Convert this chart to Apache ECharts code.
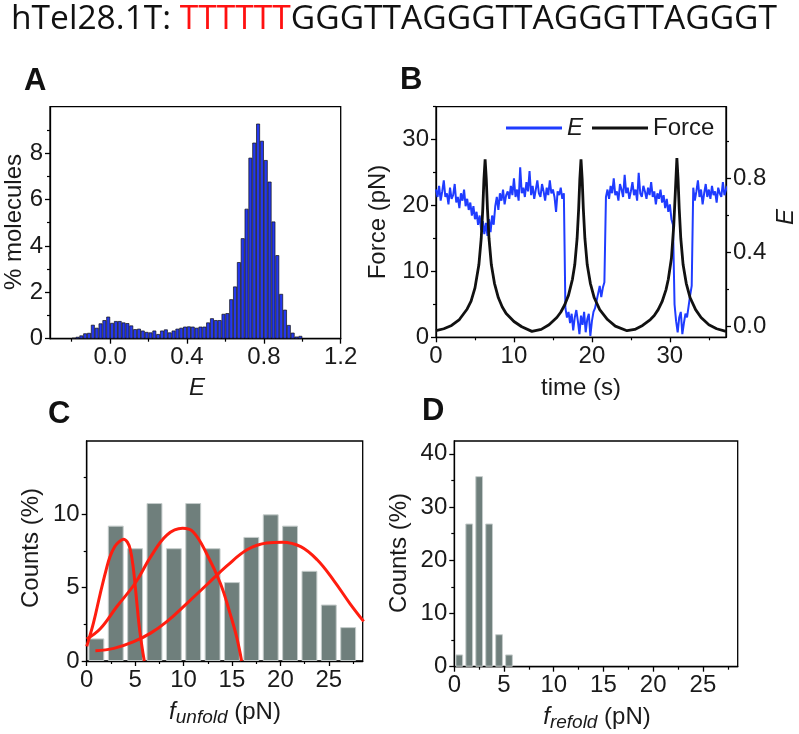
<!DOCTYPE html>
<html><head><meta charset="utf-8">
<script src="https://cdn.jsdelivr.net/npm/echarts@6/dist/echarts.min.js"></script>
<style>html,body{margin:0;padding:0;background:#fff}#c{width:799px;height:734px}</style>
</head><body><div id="c"></div><script>
// ---------- DATA ----------
// Panel A: FRET histogram (bins of 0.02 starting at -0.20)
const HIST_A_START = -0.2;
const HIST_A_BIN = 0.02;
const HIST_A_VALUES = [0.04,0.08,0.14,0.23,0.25,0.60,0.47,0.66,0.80,0.95,
  0.68,0.76,0.76,0.70,0.67,0.57,0.41,0.43,0.35,0.29,
  0.27,0.35,0.20,0.35,0.40,0.27,0.35,0.43,0.47,0.52,
  0.53,0.52,0.47,0.52,0.52,0.70,0.88,0.80,0.80,1.07,
  1.10,1.70,2.25,3.30,4.33,5.60,7.80,8.45,9.27,8.53,
  7.70,6.77,5.05,3.60,1.93,1.25,0.59,0.26,0.09,0.12];
const A_X_TICKS = [0, 0.4, 0.8, 1.2];
const A_X_MINOR = [-0.2, 0.2, 0.6, 1.0];
const A_Y_TICKS = [0, 2, 4, 6, 8];
const A_Y_MINOR = [1, 3, 5, 7, 9];

// Panel B: E trace sampled every 0.2 s from t = 0
const E_T0 = 0, E_DT = 0.2;
const E_VALUES = [
  0.74,0.70,0.76,0.68,0.73,0.79,0.70,0.72,0.66,0.75,0.69,0.71,0.77,0.67,0.70,0.64,0.72,0.68,0.74,0.65,0.69,
  0.63,0.67,0.60,0.65,0.58,0.62,0.55,0.60,0.52,0.57,
  0.50,0.56,0.49,0.58,0.51,0.60,0.55,
  0.65,0.70,0.63,0.72,0.68,0.74,0.66,0.71,
  0.73,0.69,0.76,0.71,0.80,0.70,0.74,0.68,0.86,0.72,0.75,0.70,0.78,0.73,0.84,0.71,0.76,0.69,0.74,0.79,0.72,0.70,0.77,0.73,0.68,0.75,0.71,0.79,0.72,0.74,0.70,0.62,0.73,0.71,0.75,0.69,0.72,
  0.10,0.05,0.08,0.02,0.07,-0.02,0.05,0.09,0.03,-0.04,0.06,0.01,0.08,-0.03,0.04,0.07,-0.05,0.03,0.08,0.10,0.14,
  0.18,0.22,0.16,0.21,0.24,
  0.70,0.74,0.69,0.76,0.72,0.80,0.71,0.73,0.68,0.77,0.74,0.70,0.82,0.72,0.75,0.69,0.73,0.78,0.71,0.74,0.68,0.83,0.72,0.70,0.76,0.73,0.69,0.75,0.71,0.78,0.70,0.73,0.66,0.72,0.69,0.74,0.67,0.71,0.64,0.69,
  0.62,0.66,0.58,0.55,
  0.12,0.03,-0.03,0.05,0.08,-0.04,0.02,0.07,0.05,0.11,0.17,0.22,
  0.75,0.68,0.73,0.79,0.70,0.74,0.66,0.72,0.77,0.70,0.74,0.69,0.76,0.71,0.73,0.67,0.75,0.72,0.70,0.78,0.71,0.74,0.76];
// Panel B: force trace
const FORCE_T = [0,1,2,3,4,4.5,5,5.5,5.8,6.0,6.15,6.3,6.45,6.6,6.8,7.1,7.5,8,8.5,9,10,11,12.3,13.5,14.5,
  15.5,16,16.5,17,17.5,17.8,18.1,18.3,18.45,18.6,18.75,18.9,19.1,19.4,19.8,20.3,21,22,23,24.5,
  25.5,26.5,27.5,28,28.5,29,29.5,29.8,30.2,30.5,30.7,30.9,31.05,31.2,31.4,31.7,32.1,32.6,33.3,34,35,36,37.2];
const FORCE_V = [1.0,1.3,1.8,2.7,4.3,5.5,7.5,11,15,19.5,24,27,24,19.5,15,11,8.2,6,4.6,3.6,2.4,1.6,0.9,1.2,1.9,
  3.0,3.8,4.9,6.4,8.8,11,15,19.5,24,27,24,19.5,15,11,8.2,6,4.2,2.7,1.7,1.0,
  1.2,1.8,2.7,3.3,4.2,5.4,7.2,8.8,12,17,22,27.2,24,19.5,15,11,8.2,6,4.2,3.0,1.9,1.3,0.9];
const B_X_TICKS = [0, 10, 20, 30];
const B_X_MINOR = [5, 15, 25, 35];
const B_YL_TICKS = [0, 10, 20, 30];
const B_YL_MINOR = [5, 15, 25, 35];
const B_YR_TICKS = [0, 0.4, 0.8];
const B_YR_MINOR = [0.2, 0.6, 1.0];

// Panel C: unfolding force histogram
const C_CENTERS = [1,3,5,7,9,11,13,15,17,19,21,23,25,27];
const C_VALUES = [1.54,9.23,7.69,10.77,7.69,10.77,7.69,5.38,8.46,10.0,9.23,6.15,3.85,2.31];
const C_FIT1_X = [0,0.7,1.4,2.0,2.4,2.9,3.3,3.8,4.2,4.5,4.8,5.1,5.4,5.7,5.95];
const C_FIT1_Y = [1.0,2.6,4.6,6.2,7.1,7.8,8.1,8.3,8.1,7.6,6.4,4.5,2.5,1.0,0];
const C_FIT2_X = [0,1.4,3.1,5,6.6,8.3,9.9,11,12.4,13.8,14.8,15.5,16.0];
const C_FIT2_Y = [1.5,2.2,3.7,5.3,7.1,8.6,9.05,8.8,7.3,5.3,3.25,1.6,0];
const C_FIT3_X = [0.9,2.8,4.8,6.6,8.3,10.3,12.4,14.5,16.6,18.6,20.2,22.1,23.8,25.5,27.2,28.6];
const C_FIT3_Y = [0.7,0.86,1.3,1.9,2.7,3.9,5.2,6.5,7.6,8.05,8.1,7.8,6.9,5.5,3.9,2.7];
const C_X_TICKS = [0,5,10,15,20,25];
const C_X_MINOR = [2.5,7.5,12.5,17.5,22.5,27.5];
const C_Y_TICKS = [0,5,10];
const C_Y_MINOR = [2.5,7.5,12.5];

// Panel D: refolding force histogram
const D_CENTERS = [0.5,1.5,2.5,3.5,4.5,5.5];
const D_VALUES = [2.3,26.9,35.8,26.9,6.1,2.3];
const D_X_TICKS = [0,5,10,15,20,25];
const D_X_MINOR = [2.5,7.5,12.5,17.5,22.5,27.5];
const D_Y_TICKS = [0,10,20,30,40];
const D_Y_MINOR = [5,15,25,35];

// ---------- BUILD ----------
const FONT = '"Liberation Sans", Arial, sans-serif';
const pair = (xs, ys) => xs.map((x, i) => [x, ys[i]]);
const histA = HIST_A_VALUES.map((v, i) => [HIST_A_START + (i + 0.5) * HIST_A_BIN, v]);
const eTrace = E_VALUES.map((v, i) => [E_T0 + i * E_DT, v]);

const grids = [
  {left: 50, top: 106.7, width: 290.7, height: 232},
  {left: 436, top: 106.7, width: 290, height: 230.6},
  {left: 86.7, top: 441, width: 276, height: 220},
  {left: 454.3, top: 441, width: 283.4, height: 225.7}
];
const gridOpts = grids.map(g => Object.assign({show: true, borderColor: '#000', borderWidth: 1.3, backgroundColor: 'transparent', containLabel: false}, g))
  .concat(grids.map(g => Object.assign({show: false, containLabel: false}, g)));

function majorAxis(gridIndex, min, max, ticks, fmt, extra) {
  return Object.assign({
    type: 'value', gridIndex, min, max,
    axisLine: {show: true, onZero: false, lineStyle: {color: '#000', width: 1.3}},
    axisTick: {show: true, inside: false, length: 5, customValues: ticks, lineStyle: {color: '#000', width: 1.3}},
    axisLabel: {show: true, customValues: ticks, fontSize: 24, fontFamily: FONT, color: '#1a1a1a', margin: 7,
      formatter: fmt || (v => String(v))},
    splitLine: {show: false}
  }, extra || {});
}
function minorAxis(gridIndex, min, max, ticks, extra) {
  return Object.assign({
    type: 'value', gridIndex, min, max,
    axisLine: {show: false, onZero: false},
    axisTick: {show: true, inside: false, length: 3, customValues: ticks, lineStyle: {color: '#000', width: 1.2}},
    axisLabel: {show: false},
    splitLine: {show: false}
  }, extra || {});
}
const f1 = v => v.toFixed(1);

const xAxes = [
  majorAxis(0, -0.313, 1.2, A_X_TICKS, f1),
  majorAxis(1, 0, 37.2, B_X_TICKS),
  majorAxis(2, 0, 28.5, C_X_TICKS),
  majorAxis(3, 0, 28.5, D_X_TICKS),
  minorAxis(4, -0.313, 1.2, A_X_MINOR),
  minorAxis(5, 0, 37.2, B_X_MINOR),
  minorAxis(6, 0, 28.5, C_X_MINOR),
  minorAxis(7, 0, 28.5, D_X_MINOR)
];
const yAxes = [
  majorAxis(0, 0, 10, A_Y_TICKS),
  majorAxis(1, 0, 35, B_YL_TICKS),
  majorAxis(1, -0.057, 1.187, B_YR_TICKS, f1, {position: 'right'}),
  majorAxis(2, 0, 15, C_Y_TICKS),
  majorAxis(3, 0, 42.4, D_Y_TICKS),
  minorAxis(4, 0, 10, A_Y_MINOR),
  minorAxis(5, 0, 35, B_YL_MINOR),
  minorAxis(5, -0.057, 1.187, B_YR_MINOR, {position: 'right'}),
  minorAxis(6, 0, 15, C_Y_MINOR),
  minorAxis(7, 0, 42.4, D_Y_MINOR)
];

const RED = '#ff1d0f';
const fitLine = (xs, ys) => ({
  type: 'line', xAxisIndex: 2, yAxisIndex: 3, data: pair(xs, ys), smooth: 0.4,
  showSymbol: false, lineStyle: {color: RED, width: 3}, itemStyle: {color: RED}, clip: true, z: 5
});

const series = [
  {type: 'bar', xAxisIndex: 0, yAxisIndex: 0, data: histA, barWidth: '100%',
   itemStyle: {color: '#2438ee', borderColor: '#111', borderWidth: 0.7}},
  {type: 'line', name: 'E', xAxisIndex: 1, yAxisIndex: 2, data: eTrace, showSymbol: false,
   lineStyle: {color: '#1f3cff', width: 2}, itemStyle: {color: '#1f3cff'}, z: 3},
  {type: 'line', name: 'Force', xAxisIndex: 1, yAxisIndex: 1, data: pair(FORCE_T, FORCE_V), showSymbol: false,
   lineStyle: {color: '#111', width: 2.8}, itemStyle: {color: '#111'}, z: 4},
  {type: 'bar', xAxisIndex: 2, yAxisIndex: 3, data: pair(C_CENTERS, C_VALUES), barWidth: '82%',
   itemStyle: {color: '#6f7f7c', borderColor: '#c5cccb', borderWidth: 1}},
  fitLine(C_FIT1_X, C_FIT1_Y),
  fitLine(C_FIT2_X, C_FIT2_Y),
  fitLine(C_FIT3_X, C_FIT3_Y),
  {type: 'bar', xAxisIndex: 3, yAxisIndex: 4, data: pair(D_CENTERS, D_VALUES), barWidth: '78%',
   itemStyle: {color: '#6f7f7c', borderColor: '#c5cccb', borderWidth: 1}}
];

function txt(x, y, text, opts) {
  opts = opts || {};
  return {
    type: 'text', x, y, rotation: opts.rot || 0, z: 100,
    style: Object.assign({
      text, fontSize: opts.size || 24, fontFamily: opts.family || FONT,
      fontWeight: opts.weight || 'normal', fontStyle: opts.style || 'normal',
      fill: opts.color || '#1a1a1a', align: opts.align || 'center', verticalAlign: 'middle',
      textAlign: opts.align || 'center', textVerticalAlign: 'middle'
    }, opts.extra || {})
  };
}
const subRich = {
  f: {fontSize: 24, fontFamily: FONT, fontStyle: 'italic', fill: '#1a1a1a', color: '#1a1a1a'},
  s: {fontSize: 19, fontFamily: FONT, fontStyle: 'italic', fill: '#1a1a1a', color: '#1a1a1a', padding: [12, 0, 0, 0]},
  n: {fontSize: 24, fontFamily: FONT, fill: '#1a1a1a', color: '#1a1a1a'}
};
const TITLE_FONT = '"Open Sans", "Noto Sans", sans-serif';
const graphic = [
  txt(11, 19, '{k|hTel28.1T: }{r|TTTTTT}{k|GGGTTAGGGTTAGGGTTAGGGT}', {align: 'left', extra: {rich: {
    k: {fontSize: 33.6, fontFamily: TITLE_FONT, fill: '#111', color: '#111'},
    r: {fontSize: 33.6, fontFamily: TITLE_FONT, fill: '#ff1010', color: '#ff1010'}
  }}}),
  txt(24, 81, 'A', {align: 'left', size: 31, weight: 'bold', color: '#111'}),
  txt(400, 80, 'B', {align: 'left', size: 31, weight: 'bold', color: '#111'}),
  txt(48, 414, 'C', {align: 'left', size: 31, weight: 'bold', color: '#111'}),
  txt(422, 411, 'D', {align: 'left', size: 31, weight: 'bold', color: '#111'}),
  txt(14, 222, '% molecules', {rot: Math.PI / 2}),
  txt(197, 388, 'E', {style: 'italic'}),
  txt(378, 222, 'Force (pN)', {rot: Math.PI / 2}),
  txt(786, 217, 'E', {rot: Math.PI / 2, style: 'italic'}),
  txt(581, 388, 'time (s)'),
  txt(31, 548, 'Counts (%)', {rot: Math.PI / 2}),
  txt(399, 553, 'Counts (%)', {rot: Math.PI / 2}),
  txt(225, 712, '{f|f}{s|unfold}{n| (pN)}', {extra: {rich: subRich}}),
  txt(597, 717, '{f|f}{s|refold}{n| (pN)}', {extra: {rich: subRich}})
];

const chart = echarts.init(document.getElementById('c'), null, {renderer: 'canvas'});
chart.setOption({
  animation: false,
  backgroundColor: '#fff',
  grid: gridOpts,
  xAxis: xAxes,
  yAxis: yAxes,
  legend: {
    data: ['E', 'Force'], left: 506, top: 116, icon: 'rect', itemWidth: 56, itemHeight: 3,
    itemGap: 9, padding: 0,
    textStyle: {fontSize: 24, fontFamily: FONT, color: '#1a1a1a', rich: {i: {fontSize: 24, fontFamily: FONT, fontStyle: 'italic', color: '#1a1a1a'}}},
    formatter: n => n === 'E' ? '{i|E}' : n
  },
  series,
  graphic
});
</script></body></html>
